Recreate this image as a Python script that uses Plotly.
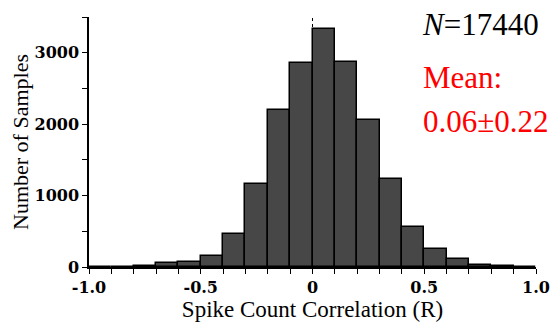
import plotly.graph_objects as go

bin_edges = [-1.0, -0.9, -0.8, -0.7, -0.6, -0.5, -0.4, -0.3, -0.2, -0.1, 0.0,
             0.1, 0.2, 0.3, 0.4, 0.5, 0.6, 0.7, 0.8, 0.9, 1.0]
counts = [0, 0, 14, 56, 75, 159, 458, 1168, 2192, 2855, 3336,
          2869, 2065, 1238, 565, 257, 117, 33, 14, 0]
x_tick_vals = [-1.0, -0.5, 0.0, 0.5, 1.0]
x_tick_text = ["-1.0", "-0.5", "0", "0.5", "1.0"]
y_tick_vals = [0, 1000, 2000, 3000]
y_tick_text = ["0", "1000", "2000", "3000"]

centers = [(a + b) / 2 for a, b in zip(bin_edges[:-1], bin_edges[1:])]
widths = [b - a for a, b in zip(bin_edges[:-1], bin_edges[1:])]

SERIF = "Liberation Serif, Times New Roman, serif"
TICKF = "DejaVu Serif, serif"

W, H, L, R, T, B = 553, 326, 89, 17, 17, 59

fig = go.Figure()
fig.add_trace(go.Bar(
    x=centers, y=counts, width=widths,
    marker=dict(color="#474747", line=dict(color="black", width=1.5)),
    showlegend=False, hoverinfo="skip",
))

fig.add_shape(type="line", x0=0, x1=0, y0=0, y1=1, xref="x", yref="y domain",
              line=dict(color="black", width=1, dash="dot"), layer="below")

tick_common = dict(ticks="outside", ticklen=5, tickwidth=1.3, tickcolor="black",
                   showline=True, linecolor="black", linewidth=1.5,
                   showgrid=False, zeroline=False, automargin=False,
                   tickfont=dict(family=TICKF, size=16, color="black", weight="bold"))

fig.update_layout(
    width=W, height=H,
    margin=dict(l=L, r=R, t=T, b=B),
    plot_bgcolor="white", paper_bgcolor="white",
    bargap=0,
    xaxis=dict(range=[-1, 1], tickvals=x_tick_vals, ticktext=x_tick_text,
               minor=dict(dtick=0.1, tick0=0, ticks="outside", ticklen=5, tickwidth=1.3, tickcolor="black"),
               title=dict(text="Spike Count Correlation (R)", standoff=4,
                          font=dict(family=SERIF, size=23, color="black")),
               **tick_common),
    yaxis=dict(range=[0, 3500], tickvals=y_tick_vals, ticktext=y_tick_text,
               minor=dict(dtick=500, tick0=0, ticks="outside", ticklen=5, tickwidth=1.3, tickcolor="black"),
               title=dict(text="Number of Samples", standoff=0,
                          font=dict(family=SERIF, size=22, color="black")),
               **tick_common),
)


def px(xp, yp):
    return (xp - L) / (W - L - R), 1 - (yp - T) / (H - T - B)


for txt, xp, yp, col in [("<i>N</i>=17440", 420, 24, "black"),
                         ("Mean:", 421, 77, "red"),
                         ("0.06±0.22", 421, 122, "red")]:
    ax, ay = px(xp, yp)
    fig.add_annotation(x=ax, y=ay, xref="paper", yref="paper", text=txt,
                       showarrow=False, xanchor="left", yanchor="middle",
                       font=dict(family=SERIF, size=31, color=col))

fig.write_html("out.html", config={"displayModeBar": False})
with open("out.html", "r", encoding="utf-8") as f:
    html = f.read()
html = html.replace("<head>", "<head><style>html,body{margin:0;padding:0;overflow:hidden;}</style>", 1)
with open("out.html", "w", encoding="utf-8") as f:
    f.write(html)
